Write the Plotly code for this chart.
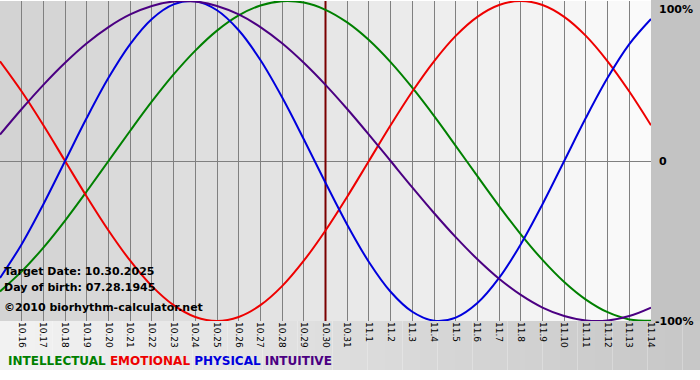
import plotly.graph_objects as go

days = ['10.15', '10.16', '10.17', '10.18', '10.19', '10.20', '10.21', '10.22', '10.23',
        '10.24', '10.25', '10.26', '10.27', '10.28', '10.29', '10.30', '10.31', '11.1',
        '11.2', '11.3', '11.4', '11.5', '11.6', '11.7', '11.8', '11.9', '11.10', '11.11',
        '11.12', '11.13', '11.14']
target_day = '10.30'

intellectual = [-0.815, -0.690, -0.541, -0.372, -0.189, 0.000, 0.189, 0.372, 0.541, 0.690,
                0.815, 0.910, 0.972, 0.999, 0.990, 0.945, 0.866, 0.756, 0.618, 0.458,
                0.282, 0.095, -0.095, -0.282, -0.458, -0.618, -0.756, -0.866, -0.945,
                -0.990, -0.999]
emotional = [0.623, 0.434, 0.223, 0.000, -0.223, -0.434, -0.623, -0.782, -0.901, -0.975,
             -1.000, -0.975, -0.901, -0.782, -0.623, -0.434, -0.223, 0.000, 0.223, 0.434,
             0.623, 0.782, 0.901, 0.975, 1.000, 0.975, 0.901, 0.782, 0.623, 0.434, 0.223]
physical = [-0.731, -0.520, -0.270, 0.000, 0.270, 0.520, 0.731, 0.888, 0.979, 0.998, 0.942,
            0.817, 0.631, 0.398, 0.136, -0.136, -0.398, -0.631, -0.817, -0.942, -0.998,
            -0.979, -0.888, -0.731, -0.520, -0.270, 0.000, 0.270, 0.520, 0.731, 0.888]
intuitive = [0.165, 0.325, 0.476, 0.614, 0.736, 0.837, 0.916, 0.969, 0.997, 0.997, 0.969,
             0.916, 0.837, 0.736, 0.614, 0.476, 0.325, 0.165, 0.000, -0.165, -0.325,
             -0.476, -0.614, -0.736, -0.837, -0.916, -0.969, -0.997, -0.997, -0.969,
             -0.916]

series = [
    ('INTELLECTUAL', intellectual, '#008000'),
    ('EMOTIONAL', emotional, '#ee0000'),
    ('PHYSICAL', physical, '#0000dd'),
    ('INTUITIVE', intuitive, '#4b0082'),
]

W, H = 700, 380
ML, MR, MT, MB = 0, 49, 1, 59
PW, PH = W - ML - MR, H - MT - MB

x = list(range(len(days)))
ti = days.index(target_day)

fig = go.Figure()
# target date marker line
fig.add_trace(go.Scatter(x=[ti, ti], y=[-1, 1], mode='lines',
                         line=dict(color='#7a0000', width=2), hoverinfo='skip'))
for name, vals, col in series:
    fig.add_trace(go.Scatter(x=x, y=vals, mode='lines', name=name,
                             line=dict(color=col, width=2, shape='spline', smoothing=1),
                             hoverinfo='skip'))


def grey(v):
    v = int(round(v))
    return f'rgb({v},{v},{v})'


shapes = []
# plot-area gradient background
n = len(days) - 1
for i in range(n):
    c = 210 + (251 - 210) * (i + 0.5) / n
    shapes.append(dict(type='rect', xref='x', yref='paper', x0=i, x1=i + 1, y0=0, y1=1,
                       fillcolor=grey(c), line=dict(width=0), layer='below'))
# right margin
shapes.append(dict(type='rect', xref='paper', yref='paper', x0=1, x1=W / PW, y0=0,
                   y1=1 + MT / PH, fillcolor=grey(195), line=dict(width=0), layer='below'))
# bottom gradient band
nb = 40
ybot = -(370 - (MT + PH)) / PH
for i in range(nb):
    c = 243 + (198 - 243) * (i + 0.5) / nb
    shapes.append(dict(type='rect', xref='paper', yref='paper', x0=i / nb * W / PW,
                       x1=(i + 1) / nb * W / PW, y0=ybot, y1=0,
                       fillcolor=grey(c), line=dict(width=0), layer='below'))

font = 'DejaVu Sans'


def py(pix):
    return (MT + PH - pix) / PH


annotations = []
for txt, ypix in [('Target Date: 10.30.2025', 271), ('Day of birth: 07.28.1945', 287),
                  ('©2010 biorhythm-calculator.net', 307)]:
    annotations.append(dict(text=txt, xref='paper', yref='paper', x=2 / PW, y=py(ypix),
                            xanchor='left', yanchor='middle', showarrow=False,
                            font=dict(family=font, size=11, color='black', weight='bold')))
for txt, xpix, ypix in [('100%', 657, 9), ('0', 657, 161), ('-100%', 653, 321)]:
    annotations.append(dict(text=txt, xref='paper', yref='paper', x=xpix / PW, y=py(ypix),
                            xanchor='left', yanchor='middle', showarrow=False,
                            font=dict(family=font, size=11, color='black', weight='bold')))
legend_txt = ' '.join(f"<span style='color:{col}'>{name}</span>" for name, _, col in series)
annotations.append(dict(text=legend_txt, xref='paper', yref='paper', x=6 / PW, y=py(361),
                        xanchor='left', yanchor='middle', showarrow=False,
                        font=dict(family=font, size=12, weight='bold')))

fig.update_layout(
    width=W, height=H, template='none',
    margin=dict(l=ML, r=MR, t=MT, b=MB, pad=0),
    paper_bgcolor='white', plot_bgcolor='rgba(0,0,0,0)',
    showlegend=False, shapes=shapes, annotations=annotations,
    xaxis=dict(range=[0, n], tickmode='array', tickvals=x, ticktext=days, tickangle=90,
               tickfont=dict(family=font, size=9, color='black'), showgrid=True,
               gridcolor='#808080', gridwidth=1, zeroline=False, showline=False,
               ticks='', automargin=False, fixedrange=True),
    yaxis=dict(range=[-1, 1], showticklabels=False, showgrid=False, zeroline=True,
               zerolinecolor='#808080', zerolinewidth=1, showline=False, ticks='',
               automargin=False, fixedrange=True),
)

fig.write_html('out.html', config={'displayModeBar': False},
               post_script="document.body.style.margin='0';document.body.style.overflow='hidden';")
